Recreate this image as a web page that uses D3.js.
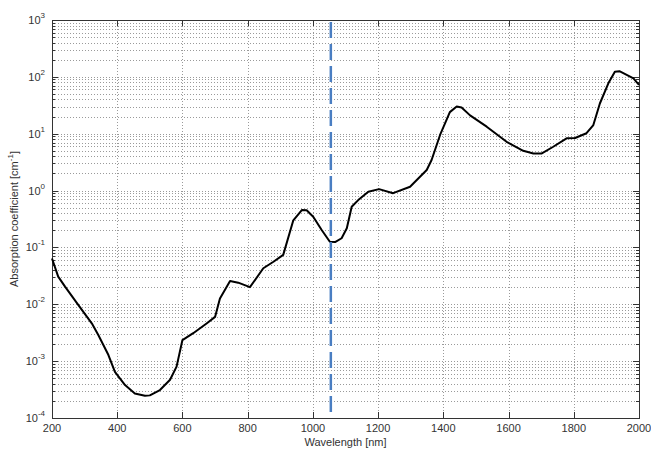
<!DOCTYPE html>
<html>
<head>
<meta charset="utf-8">
<script src="https://cdn.jsdelivr.net/npm/d3@7"></script>
<style>
  body { margin: 0; background: #fff; }
  text { font-family: "Liberation Sans", Arial, sans-serif; }
</style>
</head>
<body>
<svg id="chart" width="651" height="449"></svg>
<script>
// wavelength [nm] and absorption coefficient [cm^-1]
var wavelength = [200, 219, 240, 281, 322, 342, 373, 393, 424, 454, 485, 500, 531, 562, 582, 600,
  633, 674, 700, 715, 746, 771, 807, 848, 879, 909, 940, 966, 981, 1001, 1027, 1052, 1068, 1088,
  1104, 1119, 1139, 1170, 1203, 1246, 1298, 1349, 1364, 1390, 1420, 1441, 1456, 1482, 1533,
  1594, 1645, 1676, 1702, 1737, 1778, 1804, 1839, 1860, 1880, 1906, 1926, 1940, 1983, 2000]
var absorption = [0.064, 0.0306, 0.0204, 0.0097, 0.00463, 0.00288, 0.00128, 6.5e-4, 3.8e-4,
  2.7e-4, 2.47e-4, 2.5e-4, 3.1e-4, 4.7e-4, 8e-4, 2.35e-3, 3.1e-3, 4.6e-3, 6e-3, 0.0127, 0.0257,
  0.024, 0.02, 0.043, 0.056, 0.074, 0.30, 0.455, 0.45, 0.347, 0.203, 0.126, 0.124, 0.145, 0.217,
  0.52, 0.68, 0.955, 1.06, 0.9, 1.17, 2.3, 3.45, 9.5, 24, 30, 29, 21, 13.3, 7.2, 5.0, 4.5, 4.5,
  5.9, 8.3, 8.4, 10.2, 14.2, 34, 77, 123, 126, 94, 72]

var xTicks = [200, 400, 600, 800, 1000, 1200, 1400, 1600, 1800, 2000]
var yExponents = [-4, -3, -2, -1, 0, 1, 2, 3]
var markerWavelength = 1055

// note: "top" is taken by window.top, so plot box edges get own names
var plotL = 52, plotR = 639, plotT = 20, plotB = 418

var svg = d3.select("#chart")

var x = d3.scaleLinear().domain([200, 2000]).range([plotL, plotR])
var y = d3.scaleLog().domain([1e-4, 1e3]).range([plotB, plotT])

// minor values for the log grid
var minorVals = []
yExponents.slice(0, -1).forEach(function(e) {
  for (var m = 2; m <= 9; m++) minorVals.push(m * Math.pow(10, e))
})
var majorVals = yExponents.map(function(e) { return Math.pow(10, e) })

var grid = svg.append("g").attr("class", "grid")
  .attr("stroke", "#9a9a9a")
  .attr("stroke-width", 1)
  .attr("stroke-dasharray", "1,2")

grid.selectAll(".hgrid")
  .data(minorVals.concat(majorVals.slice(1, -1)))
.enter().append("line")
  .attr("x1", plotL).attr("x2", plotR)
  .attr("y1", function(d) { return Math.round(y(d)) + 0.5 })
  .attr("y2", function(d) { return Math.round(y(d)) + 0.5 })

grid.selectAll(".vgrid")
  .data(xTicks.slice(1, -1))
.enter().append("line")
  .attr("y1", plotT).attr("y2", plotB)
  .attr("x1", function(d) { return Math.round(x(d)) + 0.5 })
  .attr("x2", function(d) { return Math.round(x(d)) + 0.5 })

// tick marks, inside on all four sides (matlab style)
var ticks = svg.append("g").attr("stroke", "#333").attr("stroke-width", 1)
xTicks.forEach(function(t) {
  var px = Math.round(x(t)) + 0.5
  ticks.append("line").attr("x1", px).attr("x2", px).attr("y1", plotB).attr("y2", plotB - 6)
  ticks.append("line").attr("x1", px).attr("x2", px).attr("y1", plotT).attr("y2", plotT + 6)
})
majorVals.forEach(function(v) {
  var py = Math.round(y(v)) + 0.5
  ticks.append("line").attr("x1", plotL).attr("x2", plotL + 6).attr("y1", py).attr("y2", py)
  ticks.append("line").attr("x1", plotR).attr("x2", plotR - 6).attr("y1", py).attr("y2", py)
})
minorVals.forEach(function(v) {
  var py = Math.round(y(v)) + 0.5
  ticks.append("line").attr("x1", plotL).attr("x2", plotL + 3).attr("y1", py).attr("y2", py)
  ticks.append("line").attr("x1", plotR).attr("x2", plotR - 3).attr("y1", py).attr("y2", py)
})

// frame
svg.append("rect")
  .attr("x", plotL + 0.5).attr("y", plotT + 0.5)
  .attr("width", plotR - plotL).attr("height", plotB - plotT)
  .attr("fill", "none").attr("stroke", "#333").attr("stroke-width", 1)

// data curve
var line = d3.line()
  .x(function(d, i) { return x(wavelength[i]) })
  .y(function(d) { return y(d) })

svg.append("path")
  .datum(absorption)
  .attr("d", line)
  .attr("fill", "none")
  .attr("stroke", "#000")
  .attr("stroke-width", 2)
  .attr("stroke-linejoin", "round")

// dashed marker line
svg.append("line")
  .attr("x1", x(markerWavelength)).attr("x2", x(markerWavelength))
  .attr("y1", plotT + 2).attr("y2", plotB)
  .attr("stroke", "#4a7ec2")
  .attr("stroke-width", 2.5)
  .attr("stroke-dasharray", "16,6")

// x tick labels
svg.selectAll(".xlabel")
  .data(xTicks)
.enter().append("text")
  .attr("x", function(d) { return x(d) })
  .attr("y", 432)
  .attr("text-anchor", "middle")
  .attr("font-size", 11)
  .attr("fill", "#333")
  .text(function(d) { return d })

// y tick labels 10^n
var yl = svg.selectAll(".ylabel")
  .data(yExponents)
.enter().append("text")
  .attr("x", 45)
  .attr("y", function(d) { return y(Math.pow(10, d)) + 4 })
  .attr("text-anchor", "end")
  .attr("font-size", 11)
  .attr("fill", "#333")
yl.append("tspan").text("10")
yl.append("tspan")
  .attr("dy", -6)
  .attr("font-size", 8)
  .text(function(d) { return d })

svg.append("text")
  .attr("x", (plotL + plotR) / 2)
  .attr("y", 446)
  .attr("text-anchor", "middle")
  .attr("font-size", 11)
  .attr("fill", "#333")
  .text("Wavelength [nm]")

var ylab = svg.append("text")
  .attr("transform", "translate(18," + (plotT + plotB) / 2 + ") rotate(-90)")
  .attr("text-anchor", "middle")
  .attr("font-size", 11)
  .attr("fill", "#333")
ylab.append("tspan").text("Absorption coefficient [cm")
ylab.append("tspan").attr("dy", -5).attr("font-size", 8).text("-1")
ylab.append("tspan").attr("dy", 5).text("]")
</script>
</body>
</html>
